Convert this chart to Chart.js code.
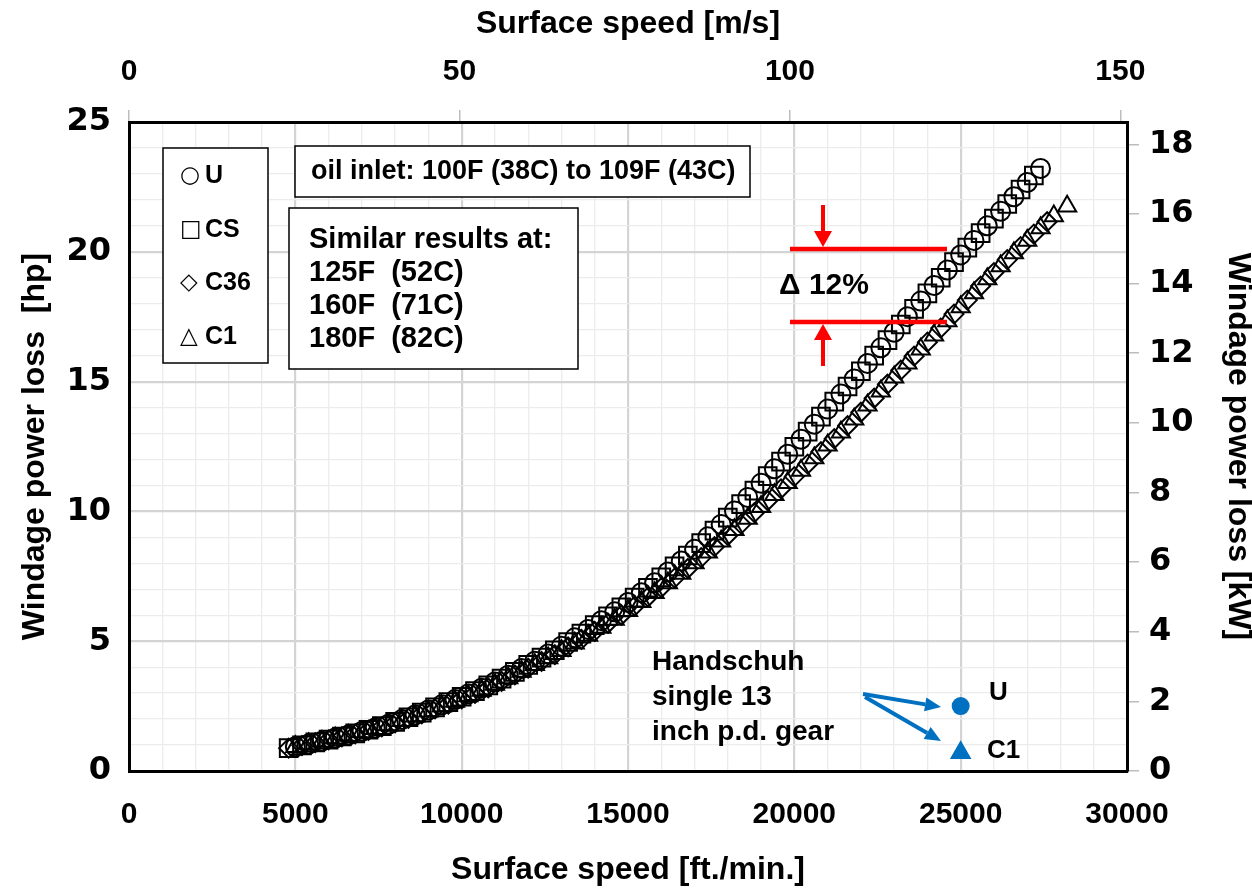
<!DOCTYPE html>
<html lang="en">
<head>
  <meta charset="UTF-8">
  <title>Windage power loss</title>
  <script src="https://cdn.jsdelivr.net/npm/chart.js"></script>
  <style>
    html, body { margin: 0; padding: 0; background: #fff; }
    #windageChart { display: block; }
  </style>
</head>
<body>
  <canvas id="windageChart" width="1252" height="890"></canvas>

  <script>
    // surface speed [ft/min] of the test points (two interleaved speed sets)
    const speedA = [4800, 5200, 5600, 6000, 6400, 6800, 7200, 7600, 8000, 8400,
      8800, 9200, 9600, 10000, 10400, 10800, 11200, 11600, 12000, 12400,
      12800, 13200, 13600, 14000, 14400, 14800, 15200, 15600, 16000, 16400,
      16800, 17200, 17600, 18000, 18400, 18800, 19200, 19600, 20000, 20400,
      20800, 21200, 21600, 22000, 22400, 22800, 23200, 23600, 24000, 24400,
      24800, 25200, 25600, 26000, 26400, 26800, 27200, 27600];
    const speedB = [5000, 5400, 5800, 6200, 6600, 7000, 7400, 7800, 8200, 8600,
      9000, 9400, 9800, 10200, 10600, 11000, 11400, 11800, 12200, 12600,
      13000, 13400, 13800, 14200, 14600, 15000, 15400, 15800, 16200, 16600,
      17000, 17400, 17800, 18200, 18600, 19000, 19400, 19800, 20200, 20600,
      21000, 21400, 21800, 22200, 22600, 23000, 23400, 23800, 24200, 24600,
      25000, 25400, 25800, 26200, 26600, 27000, 27400, 27800, 28200];

    // windage power loss [hp]
    const hpU = [0.93, 1.04, 1.15, 1.27, 1.39, 1.52, 1.66, 1.80, 1.98, 2.16,
      2.35, 2.55, 2.75, 2.97, 3.19, 3.43, 3.69, 3.95, 4.23, 4.51,
      4.81, 5.13, 5.45, 5.79, 6.13, 6.49, 6.87, 7.25, 7.67, 8.09,
      8.54, 9.02, 9.50, 10.02, 10.54, 11.08, 11.64, 12.20, 12.78, 13.36,
      13.94, 14.52, 15.10, 15.70, 16.30, 16.90, 17.50, 18.10, 18.70, 19.30,
      19.88, 20.44, 21.00, 21.56, 22.12, 22.67, 23.21];
    const hpCS = [0.88, 0.99, 1.10, 1.21, 1.33, 1.45, 1.59, 1.73, 1.89, 2.07,
      2.25, 2.45, 2.65, 2.86, 3.08, 3.30, 3.56, 3.82, 4.09, 4.37,
      4.65, 4.97, 5.29, 5.62, 5.96, 6.30, 6.68, 7.06, 7.46, 7.88,
      8.30, 8.78, 9.26, 9.76, 10.28, 10.80, 11.36, 11.92, 12.49, 13.07,
      13.65, 14.23, 14.81, 15.40, 16.00, 16.60, 17.20, 17.80, 18.40, 19.00,
      19.60, 20.16, 20.72, 21.28, 21.84, 22.40, 22.94];
    const hpC36 = [0.88, 0.98, 1.09, 1.20, 1.32, 1.43, 1.57, 1.70, 1.86, 2.03,
      2.20, 2.39, 2.58, 2.78, 2.99, 3.20, 3.45, 3.70, 3.96, 4.22,
      4.48, 4.78, 5.07, 5.38, 5.69, 6.00, 6.35, 6.70, 7.06, 7.43,
      7.80, 8.22, 8.64, 9.07, 9.51, 9.95, 10.41, 10.87, 11.34, 11.82,
      12.30, 12.80, 13.30, 13.82, 14.36, 14.90, 15.44, 15.98, 16.52, 17.06,
      17.60, 18.14, 18.68, 19.20, 19.70, 20.20, 20.68, 21.16];
    const hpC1 = [0.93, 1.04, 1.14, 1.26, 1.37, 1.50, 1.63, 1.77, 1.94, 2.11,
      2.30, 2.49, 2.68, 2.89, 3.10, 3.33, 3.58, 3.83, 4.09, 4.35,
      4.63, 4.92, 5.22, 5.53, 5.84, 6.17, 6.52, 6.87, 7.24, 7.61,
      8.01, 8.43, 8.85, 9.29, 9.73, 10.18, 10.64, 11.10, 11.58, 12.06,
      12.55, 13.05, 13.55, 14.09, 14.63, 15.17, 15.71, 16.25, 16.79, 17.33,
      17.87, 18.41, 18.95, 19.45, 19.95, 20.44, 20.92, 21.38, 21.75];

    // Handschuh, single 13 inch p.d. gear
    const handschuhSpeed = [25000];
    const handschuhU = [2.5];
    const handschuhC1 = [0.7];

    // tick labels
    const ftTicks = [0, 5000, 10000, 15000, 20000, 25000, 30000];
    const msTicks = [0, 50, 100, 150];
    const hpTicks = [0, 5, 10, 15, 20, 25];
    const kwTicks = [0, 2, 4, 6, 8, 10, 12, 14, 16, 18];

    const SANS = "'Liberation Sans', Arial, sans-serif";
    const WIDE = "'DejaVu Sans', Verdana, sans-serif";
    const BLUE = '#0070C0';
    const RED = '#FF0000';

    function pairs(xs, ys) {
      return ys.map((y, i) => ({ x: xs[i], y: y }));
    }

    function arrow(ctx, x1, y1, x2, y2, color, lw, headLen, headHalf) {
      const a = Math.atan2(y2 - y1, x2 - x1);
      const bx = x2 - Math.cos(a) * headLen;
      const by = y2 - Math.sin(a) * headLen;
      ctx.strokeStyle = color;
      ctx.fillStyle = color;
      ctx.lineWidth = lw;
      ctx.beginPath();
      ctx.moveTo(x1, y1);
      ctx.lineTo(bx, by);
      ctx.stroke();
      ctx.beginPath();
      ctx.moveTo(x2, y2);
      ctx.lineTo(bx + Math.sin(a) * headHalf, by - Math.cos(a) * headHalf);
      ctx.lineTo(bx - Math.sin(a) * headHalf, by + Math.cos(a) * headHalf);
      ctx.closePath();
      ctx.fill();
    }

    function box(ctx, x, y, w, h) {
      ctx.fillStyle = '#fff';
      ctx.fillRect(x, y, w, h);
      ctx.strokeStyle = '#000';
      ctx.lineWidth = 1.5;
      ctx.strokeRect(x, y, w, h);
    }

    const annotations = {
      id: 'annotations',
      afterDraw(chart) {
        const ctx = chart.ctx;
        ctx.save();
        ctx.textBaseline = 'middle';
        ctx.textAlign = 'left';

        // legend box
        box(ctx, 163, 148, 105, 215);
        const legendRows = [['\u25CB', 'U', 176], ['\u25A1', 'CS', 230], ['\u25C7', 'C36', 283], ['\u25B3', 'C1', 337]];
        legendRows.forEach(([sym, name, y]) => {
          ctx.fillStyle = '#000';
          ctx.font = '23px ' + WIDE;
          ctx.fillText(sym, 180, y);
          ctx.font = 'bold 25px ' + SANS;
          ctx.fillText(name, 205, y);
        });

        // oil inlet box
        box(ctx, 295, 146, 455, 51);
        ctx.fillStyle = '#000';
        ctx.font = 'bold 27px ' + SANS;
        ctx.fillText('oil inlet: 100F (38C) to 109F (43C)', 311, 172);

        // similar results box
        box(ctx, 289, 208, 289, 161);
        ctx.fillStyle = '#000';
        ctx.font = 'bold 29px ' + SANS;
        ['Similar results at:', '125F  (52C)', '160F  (71C)', '180F  (82C)'].forEach((t, i) => {
          ctx.fillText(t, 309, 240 + i * 33);
        });

        // 12 % band
        ctx.strokeStyle = RED;
        ctx.lineWidth = 4.5;
        ctx.beginPath();
        ctx.moveTo(790, 249); ctx.lineTo(947, 249);
        ctx.moveTo(790, 322); ctx.lineTo(947, 322);
        ctx.stroke();
        arrow(ctx, 823, 205, 823, 247, RED, 4, 16, 9);
        arrow(ctx, 823, 366, 823, 324, RED, 4, 16, 9);
        ctx.fillStyle = '#000';
        ctx.font = 'bold 30px ' + SANS;
        ctx.fillText('\u0394 12%', 779, 286);

        // Handschuh note
        ctx.font = 'bold 28px ' + SANS;
        ['Handschuh', 'single 13', 'inch p.d. gear'].forEach((t, i) => {
          ctx.fillText(t, 652, 662 + i * 35);
        });
        arrow(ctx, 863, 694, 941, 707, BLUE, 4, 16, 7);
        arrow(ctx, 865, 697, 941, 741, BLUE, 4, 16, 7);
        ctx.fillStyle = '#000';
        ctx.font = 'bold 26px ' + SANS;
        ctx.fillText('U', 989, 693);
        ctx.fillText('C1', 987, 751);

        ctx.restore();
      }
    };

    const gridColor = (c, majors) => (c.tick && majors.includes(c.tick.value)) ? '#d4d4d4' : '#ececec';
    const gridWidth = (c, majors) => (c.tick && majors.includes(c.tick.value)) ? 2.2 : 1.3;

    const markerBase = {
      showLine: false,
      pointBorderColor: '#000',
      pointBackgroundColor: 'rgba(0,0,0,0)',
      pointBorderWidth: 2
    };

    new Chart(document.getElementById('windageChart').getContext('2d'), {
      type: 'scatter',
      data: {
        datasets: [
          Object.assign({ label: 'C1', data: pairs(speedB, hpC1), pointStyle: 'triangle', pointRadius: 10.5 }, markerBase),
          Object.assign({ label: 'C36', data: pairs(speedA, hpC36), pointStyle: 'rectRot', pointRadius: 9.5 }, markerBase),
          Object.assign({ label: 'CS', data: pairs(speedA, hpCS), pointStyle: 'rect', pointRadius: 12.5 }, markerBase),
          Object.assign({ label: 'U', data: pairs(speedB, hpU), pointStyle: 'circle', pointRadius: 9.5 }, markerBase),
          {
            label: 'Handschuh U', data: pairs(handschuhSpeed, handschuhU), pointStyle: 'circle',
            pointRadius: 9, pointBackgroundColor: BLUE, pointBorderColor: BLUE, pointBorderWidth: 0
          },
          {
            label: 'Handschuh C1', data: pairs(handschuhSpeed, handschuhC1), pointStyle: 'triangle',
            pointRadius: 12.5, pointBackgroundColor: BLUE, pointBorderColor: BLUE, pointBorderWidth: 0
          }
        ]
      },
      options: {
        responsive: false,
        animation: false,
        layout: { padding: 0 },
        plugins: { legend: { display: false }, tooltip: { enabled: false } },
        scales: {
          x: {
            type: 'linear', position: 'bottom', min: 0, max: 30000,
            ticks: {
              stepSize: 1000, autoSkip: false, maxRotation: 0, padding: 26, color: '#000',
              font: { family: SANS, size: 30, weight: 'bold' },
              callback: v => ftTicks.includes(v) ? String(v) : ''
            },
            grid: { drawTicks: false, color: c => gridColor(c, ftTicks), lineWidth: c => gridWidth(c, ftTicks) },
            border: { color: '#000', width: 3 },
            title: {
              display: true, text: 'Surface speed [ft./min.]', color: '#000',
              font: { family: SANS, size: 32, weight: 'bold', lineHeight: 1 }, padding: { top: 0, bottom: 4 }
            },
            afterFit: s => { s.height = 119; }
          },
          x2: {
            type: 'linear', position: 'top', min: 0, max: 151,
            afterBuildTicks: s => { s.ticks = msTicks.map(v => ({ value: v })); },
            ticks: { padding: 20, color: '#000', font: { family: SANS, size: 30, weight: 'bold' } },
            grid: { drawOnChartArea: false, drawTicks: true, tickLength: 12, color: '#bdbdbd', lineWidth: 1.5 },
            border: { color: '#000', width: 3 },
            title: {
              display: true, text: 'Surface speed [m/s]', color: '#000',
              font: { family: SANS, size: 32, weight: 'bold', lineHeight: 1 }, padding: { top: 8, bottom: 0 }
            },
            afterFit: s => { s.height = 122; }
          },
          y: {
            type: 'linear', position: 'left', min: 0, max: 25,
            ticks: {
              stepSize: 1, autoSkip: false, padding: 18, color: '#000',
              font: { family: WIDE, size: 32, weight: 'bold' },
              callback: v => hpTicks.includes(v) ? String(v) : ''
            },
            grid: { drawTicks: false, color: c => gridColor(c, hpTicks), lineWidth: c => gridWidth(c, hpTicks) },
            border: { color: '#000', width: 3 },
            title: {
              display: true, text: 'Windage power loss  [hp]', color: '#000',
              font: { family: SANS, size: 32, weight: 'bold', lineHeight: 1 }, padding: { top: 19, bottom: 0 }
            },
            afterFit: s => { s.width = 129; }
          },
          y2: {
            type: 'linear', position: 'right', min: 0, max: 25 * 0.7457,
            afterBuildTicks: s => { s.ticks = kwTicks.map(v => ({ value: v })); },
            ticks: { padding: 10, color: '#000', font: { family: WIDE, size: 32, weight: 'bold' } },
            grid: { drawOnChartArea: false, drawTicks: true, tickLength: 12, color: '#bdbdbd', lineWidth: 1.5 },
            border: { color: '#000', width: 3 },
            title: {
              display: true, text: 'Windage power loss [kW]', color: '#000',
              font: { family: SANS, size: 32, weight: 'bold', lineHeight: 0.9 }, padding: { top: 0, bottom: 0 }
            },
            afterFit: s => { s.width = 125; }
          }
        }
      },
      plugins: [annotations]
    });
  </script>
</body>
</html>
